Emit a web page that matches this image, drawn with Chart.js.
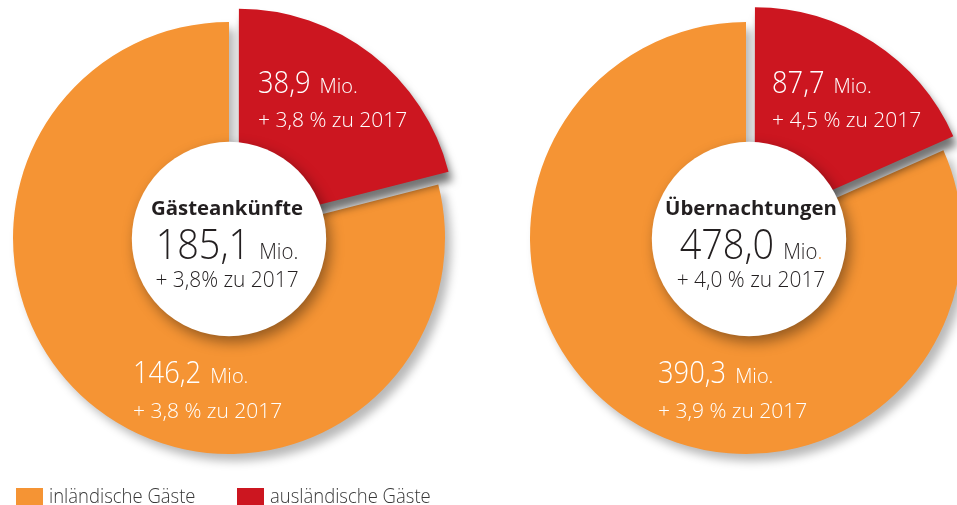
<!DOCTYPE html>
<html lang="de">
<head>
<meta charset="utf-8">
<title>Gästeankünfte und Übernachtungen</title>
<script src="https://cdn.jsdelivr.net/npm/chart.js"></script>
<style>
  body { margin: 0; background: #fff; }
  .wrap { position: relative; width: 957px; height: 505px; overflow: hidden; }
  canvas { position: absolute; top: 0; }
  #chartLeft { left: 0; }
  #chartRight { left: 480px; }
</style>
</head>
<body>
<div class="wrap">
  <canvas id="chartLeft" width="480" height="505"></canvas>
  <canvas id="chartRight" width="477" height="505"></canvas>
</div>
<script>
// data (Mio.)
const categories = ['ausländische Gäste', 'inländische Gäste'];
const chartTitles = ['Gästeankünfte', 'Übernachtungen'];
const foreignValues = [38.9, 87.7];
const inlandValues = [146.2, 390.3];
const totalValues = [185.1, 478.0];
const foreignChange = ['+ 3,8 % zu 2017', '+ 4,5 % zu 2017'];
const inlandChange = ['+ 3,8 % zu 2017', '+ 3,9 % zu 2017'];
const totalChange = ['+ 3,8% zu 2017', '+ 4,0 % zu 2017'];

const RED = '#cc1620';
const ORANGE = '#f59434';
const DARK = '#231f20';
const FONT = '"Open Sans", "Noto Sans", sans-serif';
const SX = 0.88; // condensed look

const fmt = v => v.toLocaleString('de-DE', { minimumFractionDigits: 1, maximumFractionDigits: 1 });

// label placement relative to the pie centre, per chart
const labelLayout = [
  { redX: 29, orangeX: -96, circleShift: 0, textShift: -2 },
  { redX: 26, orangeX: -88, circleShift: 3, textShift: 2 }
];

function measure(ctx, p) {
  ctx.font = p.weight + ' ' + p.size + 'px ' + FONT;
  return ctx.measureText(p.text).width * (p.sx || SX);
}

// draws a row of text pieces, left aligned at x or centred on x
function drawRow(ctx, parts, x, y, align) {
  let total = 0;
  parts.forEach((p, i) => { total += measure(ctx, p) + (i ? (p.gap || 0) : 0); });
  let left = align === 'center' ? x - total / 2 : x;
  parts.forEach((p, i) => {
    if (i) left += p.gap || 0;
    const w = measure(ctx, p);
    ctx.save();
    ctx.font = p.weight + ' ' + p.size + 'px ' + FONT;
    ctx.fillStyle = p.color;
    ctx.textAlign = 'left';
    ctx.textBaseline = 'alphabetic';
    ctx.translate(left, y);
    ctx.scale(p.sx || SX, 1);
    ctx.fillText(p.text, 0, 0);
    ctx.restore();
    left += w;
  });
}

// draw the arcs ourselves so each one gets its own drop shadow
const shadowArcs = {
  id: 'shadowArcs',
  beforeDatasetDraw(chart, args) {
    const ctx = chart.ctx;
    const arcs = args.meta.data;
    const shadows = [
      { color: 'rgba(0,0,0,0.55)', blur: 8, x: 4, y: 9 },
      { color: 'rgba(0,0,0,0.28)', blur: 10, x: 6, y: 7 }
    ];
    [1, 0].forEach(i => {
      ctx.save();
      ctx.shadowColor = shadows[i].color;
      ctx.shadowBlur = shadows[i].blur;
      ctx.shadowOffsetX = shadows[i].x;
      ctx.shadowOffsetY = shadows[i].y;
      arcs[i].draw(ctx);
      ctx.restore();
    });
    return false;
  }
};

const pieLabels = {
  id: 'pieLabels',
  afterDraw(chart, args, opts) {
    const k = opts.index;
    const lay = labelLayout[k];
    const ctx = chart.ctx;
    const arc = chart.getDatasetMeta(0).data[0];
    const cx = arc.x, cy = arc.y;
    const r = arc.outerRadius;

    // white centre disc
    ctx.save();
    ctx.shadowColor = 'rgba(0,0,0,0.4)';
    ctx.shadowBlur = 14;
    ctx.shadowOffsetX = 4;
    ctx.shadowOffsetY = 6;
    ctx.fillStyle = '#fff';
    ctx.beginPath();
    ctx.arc(cx + lay.circleShift, cy + 1, r * 0.45, 0, Math.PI * 2);
    ctx.fill();
    ctx.restore();

    const tx = cx + lay.circleShift + lay.textShift;
    drawRow(ctx, [{ text: chartTitles[k], size: 20, weight: 700, color: DARK, sx: 1.02 }], tx, cy - 23, 'center');
    const mio = [{ text: fmt(totalValues[k]), size: 43, weight: 300, color: DARK },
                 { text: 'Mio', size: 22, weight: 300, color: DARK, gap: 9, sx: 0.93 }];
    mio.push({ text: '.', size: 22, weight: 300, color: k === 1 ? ORANGE : DARK, sx: 0.93 });
    drawRow(ctx, mio, tx, cy + 21, 'center');
    drawRow(ctx, [{ text: totalChange[k], size: 22, weight: 300, color: DARK, sx: 0.95 }], tx, cy + 49, 'center');

    // slice labels
    drawRow(ctx, [{ text: fmt(foreignValues[k]), size: 31, weight: 300, color: '#fff' },
                  { text: 'Mio.', size: 21, weight: 300, color: '#fff', gap: 9, sx: 0.95 }], cx + lay.redX, cy - 145);
    drawRow(ctx, [{ text: foreignChange[k], size: 21, weight: 300, color: '#fff', sx: 1.0 }], cx + lay.redX, cy - 111);
    drawRow(ctx, [{ text: fmt(inlandValues[k]), size: 31, weight: 300, color: '#fff' },
                  { text: 'Mio.', size: 21, weight: 300, color: '#fff', gap: 9, sx: 0.95 }], cx + lay.orangeX, cy + 145);
    drawRow(ctx, [{ text: inlandChange[k], size: 21, weight: 300, color: '#fff', sx: 1.0 }], cx + lay.orangeX, cy + 180);

    // legend under the left pie
    if (opts.legend) {
      const colors = [ORANGE, RED];
      const names = [categories[1], categories[0]];
      const boxX = [16, 237];
      names.forEach((n, i) => {
        ctx.fillStyle = colors[i];
        ctx.fillRect(boxX[i], 488, 27, 17);
        drawRow(ctx, [{ text: n, size: 21, weight: 300, color: '#383838' }], boxX[i] + 33, 503);
      });
    }
  }
};

function makePie(id, k, padding, legend) {
  return new Chart(document.getElementById(id), {
    type: 'pie',
    data: {
      labels: categories,
      datasets: [{
        data: [foreignValues[k], inlandValues[k]],
        backgroundColor: [RED, ORANGE],
        borderWidth: 0,
        offset: [64, 0],
        hoverOffset: 0,
        radius: 216,
        clip: false
      }]
    },
    options: {
      responsive: false,
      animation: false,
      events: [],
      layout: { padding: padding },
      plugins: {
        legend: { display: false },
        tooltip: { enabled: false },
        pieLabels: { index: k, legend: legend }
      }
    },
    plugins: [shadowArcs, pieLabels]
  });
}

makePie('chartLeft', 0, { left: 0, right: 22, top: 0, bottom: 29 }, true);
makePie('chartRight', 1, { left: 55, right: 0, top: 0, bottom: 29 }, false);
</script>
</body>
</html>
